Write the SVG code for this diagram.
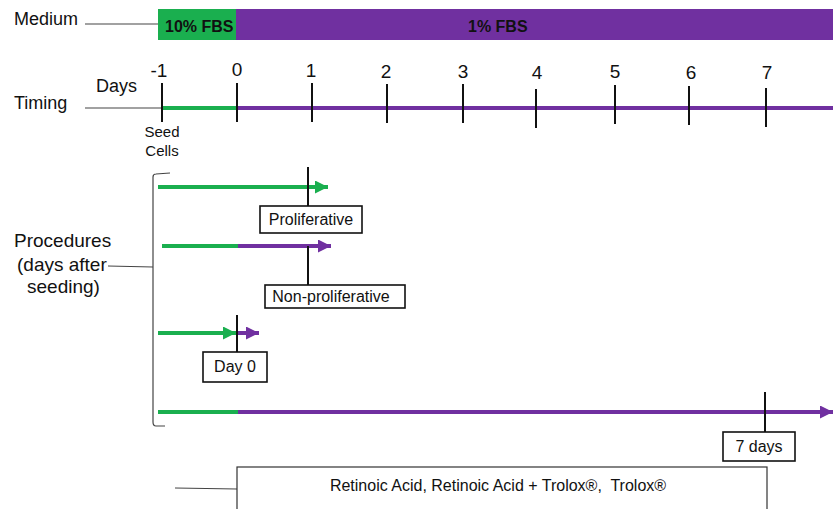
<svg xmlns="http://www.w3.org/2000/svg" width="833" height="509" viewBox="0 0 833 509">
<defs>
<style>
text{font-family:"Liberation Sans",Arial,sans-serif;fill:#111}
.lbl{font-size:18px}
.num{font-size:19px;text-anchor:middle}
.box{fill:#fff;stroke:#111;stroke-width:1.6}
.bt{font-size:16px;text-anchor:middle}
.tick{stroke:#111;stroke-width:2}
.thin{stroke:#444;stroke-width:1.2;fill:none}
.g{stroke:#1aaf4f;stroke-width:4}
.p{stroke:#7030a0;stroke-width:4}
.bold{font-size:16px;font-weight:bold}
</style>
<marker id="ag" markerWidth="13" markerHeight="13" viewBox="0 0 10 10" refX="10" refY="5" orient="auto" markerUnits="userSpaceOnUse"><path d="M0,0 L10,5 L0,10 z" fill="#1aaf4f"/></marker>
<marker id="ap" markerWidth="13" markerHeight="13" viewBox="0 0 10 10" refX="10" refY="5" orient="auto" markerUnits="userSpaceOnUse"><path d="M0,0 L10,5 L0,10 z" fill="#7030a0"/></marker>
</defs>
<rect width="833" height="509" fill="#fff"/>

<g id="medium">
<text class="lbl" x="14" y="25">Medium</text>
<line class="thin" x1="85" y1="24" x2="158" y2="24"/>
<rect x="158" y="9" width="78" height="31" fill="#1aaf4f"/>
<rect x="236" y="9" width="597" height="31" fill="#7030a0"/>
<text class="bold" x="165" y="32">10% FBS</text>
<text class="bold" x="468" y="32">1% FBS</text>
</g>

<g id="timing">
<text class="lbl" x="14" y="109">Timing</text>
<text class="lbl" x="96" y="92">Days</text>
<line class="thin" x1="85" y1="108" x2="161" y2="108"/>
<line class="g" x1="161" y1="108" x2="237" y2="108"/>
<line class="p" x1="237" y1="108" x2="833" y2="108"/>
<line class="tick" x1="162" y1="83" x2="162" y2="122"/>
<line class="tick" x1="237" y1="83" x2="237" y2="122"/>
<line class="tick" x1="312" y1="83" x2="312" y2="122"/>
<line class="tick" x1="387" y1="84" x2="387" y2="123"/>
<line class="tick" x1="463" y1="84" x2="463" y2="123"/>
<line class="tick" x1="536" y1="89" x2="536" y2="128"/>
<line class="tick" x1="615" y1="85" x2="615" y2="124"/>
<line class="tick" x1="689" y1="86" x2="689" y2="125"/>
<line class="tick" x1="766" y1="88" x2="766" y2="127"/>
<text class="num" x="159" y="77">-1</text>
<text class="num" x="237" y="76">0</text>
<text class="num" x="311" y="77">1</text>
<text class="num" x="386" y="78">2</text>
<text class="num" x="463" y="78">3</text>
<text class="num" x="537" y="79">4</text>
<text class="num" x="615" y="78">5</text>
<text class="num" x="691" y="79">6</text>
<text class="num" x="767" y="79">7</text>
<text x="162" y="137" style="font-size:15px;text-anchor:middle">Seed</text>
<text x="162" y="156" style="font-size:15px;text-anchor:middle">Cells</text>
</g>

<g id="procedures">
<text class="lbl" x="14" y="247" style="font-size:19px">Procedures</text>
<text class="lbl" x="17" y="271" style="font-size:19px">(days after</text>
<text class="lbl" x="27" y="293" style="font-size:19px">seeding)</text>
<line class="thin" x1="108" y1="266" x2="153" y2="267"/>
<path class="thin" d="M170,173 L156,174 Q153,174 153,177 L153,422 Q153,426 156,426 L165,426"/>
</g>

<g id="connectors">
<line class="g" x1="158" y1="187" x2="328" y2="187" marker-end="url(#ag)"/>
<line class="g" x1="162" y1="246" x2="238" y2="246"/>
<line class="p" x1="238" y1="246" x2="331" y2="246" marker-end="url(#ap)"/>
<line class="g" x1="158" y1="333" x2="236" y2="333" marker-end="url(#ag)"/>
<line class="p" x1="238" y1="333" x2="259" y2="333" marker-end="url(#ap)"/>
<line class="g" x1="158" y1="412" x2="238" y2="412"/>
<line class="p" x1="238" y1="412" x2="833" y2="412" marker-end="url(#ap)"/>
<line class="tick" x1="308" y1="167" x2="308" y2="206"/>
<line class="tick" x1="308" y1="246" x2="308" y2="285"/>
<line class="tick" x1="237" y1="315" x2="237" y2="352"/>
<line class="tick" x1="765" y1="392" x2="765" y2="432"/>
<line class="thin" x1="175" y1="488" x2="237" y2="489"/>
</g>

<g id="proliferative">
<rect class="box" x="260" y="206" width="102" height="27"/>
<text class="bt" x="311" y="225">Proliferative</text>
</g>
<g id="nonproliferative">
<rect class="box" x="265" y="285" width="140" height="23"/>
<text class="bt" x="331" y="302">Non-proliferative</text>
</g>
<g id="day0">
<rect class="box" x="203" y="352" width="64" height="30"/>
<text class="bt" x="235" y="372">Day 0</text>
</g>
<g id="days7">
<rect class="box" x="723" y="432" width="72" height="29"/>
<text class="bt" x="759" y="452">7 days</text>
</g>
<g id="treatments">
<rect class="box" x="237" y="467" width="530" height="50" style="stroke:#333;stroke-width:1.2"/>
<text class="bt" x="498" y="491" style="white-space:pre">Retinoic Acid, Retinoic Acid + Trolox®,  Trolox®</text>
</g>
</svg>
